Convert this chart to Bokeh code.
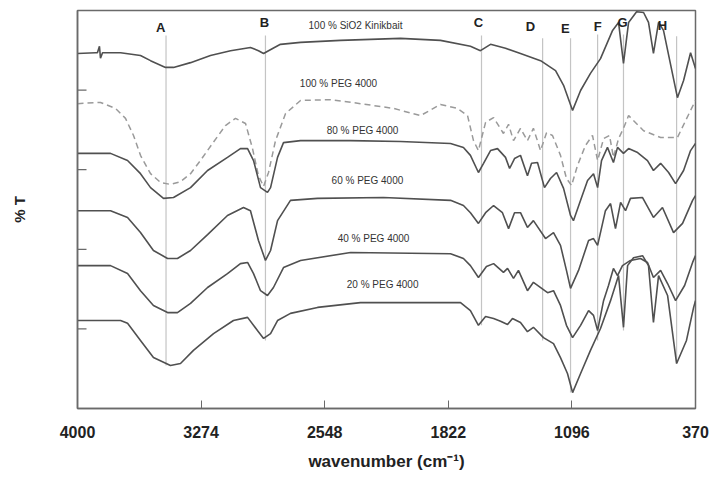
from bokeh.plotting import figure
from bokeh.models import Range1d, FixedTicker
from bokeh.core.properties import value
from bokeh.embed import file_html
from bokeh.resources import INLINE

# ---------------- data (wavenumber in cm^-1, transmittance in arbitrary % units) ----------------
tick_values = [4000, 3274, 2548, 1822, 1096, 370]
tick_labels = ["4000", "3274", "2548", "1822", "1096", "370"]
ytick_values = [20, 40, 60, 80]

sio2_wn = [4000, 3894, 3883, 3871, 3865, 3853, 3747, 3630, 3571, 3483, 3436, 3336, 3219, 3101,
           2984, 2937, 2907, 2878, 2808, 2690, 2455, 2103, 1868, 1692, 1633, 1574, 1486, 1398,
           1280, 1192, 1145, 1092, 1045, 987, 928, 857, 822, 793, 763, 716, 675, 646, 617, 587,
           558, 476, 440, 399, 370]
sio2_t = [89.2, 89.4, 89.4, 91.0, 88.0, 89.4, 89.4, 88.7, 87.4, 85.7, 85.7, 86.9, 88.7, 89.9,
          90.7, 89.9, 89.2, 89.9, 91.5, 92.0, 92.5, 93.0, 92.5, 91.0, 89.9, 91.5, 90.5, 89.2,
          87.4, 84.9, 81.2, 74.9, 79.9, 84.2, 87.9, 95.0, 97.0, 86.7, 97.0, 99.7, 99.5, 97.0,
          89.2, 97.0, 95.0, 78.1, 82.4, 89.4, 85.4]

peg100_wn = [4000, 3865, 3777, 3718, 3671, 3630, 3571, 3512, 3454, 3395, 3336, 3278, 3207, 3131,
             3072, 3013, 2972, 2937, 2907, 2878, 2837, 2778, 2690, 2514, 2338, 2144, 1985, 1868,
             1768, 1709, 1674, 1645, 1603, 1556, 1498, 1468, 1439, 1398, 1357, 1322, 1280, 1245,
             1210, 1163, 1128, 1098, 1063, 1016, 975, 945, 910, 875, 852, 822, 793, 763, 675,
             575, 476, 399, 370]
peg100_t = [76.6, 76.9, 75.4, 72.9, 68.6, 63.6, 59.0, 56.8, 56.3, 57.0, 59.0, 62.3, 66.6, 71.1,
            72.9, 71.6, 65.3, 58.5, 55.8, 59.3, 67.3, 74.1, 77.4, 77.6, 76.6, 75.4, 73.6, 76.4,
            75.4, 73.6, 67.3, 64.8, 71.9, 73.1, 69.1, 71.4, 67.3, 70.4, 67.3, 70.4, 64.8, 69.3,
            68.6, 63.6, 57.8, 56.0, 61.1, 66.1, 68.6, 62.3, 67.8, 68.6, 63.1, 67.8, 70.4, 73.6,
            69.8, 68.1, 68.1, 74.9, 77.4]

peg80_wn = [4000, 3806, 3706, 3630, 3571, 3495, 3436, 3336, 3236, 3119, 3043, 3001, 2966, 2925,
            2884, 2866, 2825, 2790, 2690, 2396, 2103, 1809, 1733, 1692, 1645, 1615, 1574, 1533,
            1486, 1462, 1433, 1398, 1357, 1333, 1298, 1257, 1222, 1186, 1145, 1104, 1087, 1045,
            1004, 969, 945, 922, 887, 852, 828, 793, 763, 710, 652, 617, 575, 528, 487, 440,
            399, 370]
peg80_t = [64.1, 64.1, 62.3, 59.0, 55.5, 52.8, 53.0, 55.5, 59.8, 63.1, 65.3, 65.3, 62.3, 55.5,
           54.3, 55.5, 63.1, 66.8, 67.3, 67.3, 67.1, 66.6, 65.6, 63.6, 59.3, 61.6, 64.8, 65.3,
           63.1, 60.3, 62.8, 63.6, 58.5, 61.6, 61.8, 55.5, 57.8, 59.3, 55.3, 48.5, 47.2, 52.3,
           57.3, 59.0, 55.5, 62.3, 65.6, 61.8, 65.6, 64.1, 65.3, 64.3, 62.3, 59.8, 61.6, 59.3,
           56.5, 59.8, 64.8, 66.6]

peg60_wn = [4000, 3806, 3706, 3630, 3554, 3471, 3413, 3336, 3236, 3119, 3025, 2984, 2937, 2896,
            2866, 2825, 2749, 2590, 2203, 1809, 1733, 1692, 1645, 1603, 1556, 1504, 1468, 1433,
            1398, 1357, 1322, 1251, 1204, 1163, 1128, 1104, 1057, 998, 969, 945, 899, 869, 840,
            810, 781, 752, 681, 617, 564, 499, 446, 387, 370]
peg60_t = [49.7, 49.7, 48.0, 44.2, 39.7, 37.7, 37.7, 39.7, 43.7, 48.5, 50.5, 49.7, 42.2, 37.2,
           39.7, 47.2, 52.3, 52.8, 53.0, 52.3, 51.0, 49.2, 46.5, 49.2, 51.0, 49.2, 45.2, 49.2,
           49.2, 45.5, 47.2, 42.7, 44.2, 41.0, 34.7, 30.2, 34.7, 42.2, 42.7, 41.0, 49.7, 51.5,
           45.2, 51.8, 49.7, 52.8, 53.0, 48.0, 50.5, 44.2, 46.5, 52.3, 53.5]

peg40_wn = [4000, 3806, 3706, 3630, 3554, 3471, 3413, 3336, 3236, 3119, 3043, 3001, 2966, 2925,
            2884, 2849, 2790, 2690, 2396, 1809, 1733, 1692, 1645, 1598, 1556, 1498, 1474, 1439,
            1410, 1357, 1322, 1239, 1204, 1163, 1128, 1092, 1045, 998, 969, 945, 910, 881, 852,
            828, 799, 752, 693, 652, 617, 575, 534, 487, 434, 387, 370]
peg40_t = [35.9, 35.9, 33.9, 29.6, 25.9, 24.1, 24.1, 26.4, 30.4, 33.9, 36.4, 36.7, 33.9, 29.6,
           28.4, 30.4, 35.4, 37.2, 39.2, 38.9, 37.7, 35.9, 32.9, 35.7, 36.4, 34.2, 35.2, 32.7,
           34.7, 29.6, 31.7, 29.1, 29.6, 25.9, 20.9, 17.8, 20.9, 24.6, 23.4, 19.6, 27.1, 30.9,
           35.2, 33.4, 35.9, 37.2, 37.7, 36.7, 32.9, 34.7, 31.4, 27.1, 30.9, 36.7, 38.4]

peg20_wn = [4000, 3747, 3706, 3630, 3554, 3454, 3395, 3319, 3201, 3084, 3001, 2943, 2907, 2866,
            2825, 2749, 2590, 2338, 1750, 1692, 1645, 1603, 1556, 1515, 1474, 1445, 1398, 1357,
            1322, 1263, 1204, 1163, 1122, 1092, 1045, 987, 928, 869, 822, 793, 769, 734, 681,
            646, 617, 587, 534, 481, 423, 381, 370]
peg20_t = [22.1, 22.1, 21.4, 17.1, 12.8, 10.8, 11.3, 14.6, 18.8, 22.1, 22.9, 19.6, 17.6, 18.8,
           22.1, 23.9, 25.4, 26.6, 26.6, 24.6, 20.9, 23.1, 22.6, 21.9, 21.1, 22.6, 21.6, 19.3,
           20.4, 17.8, 16.3, 12.8, 8.8, 4.0, 8.8, 14.6, 20.1, 27.1, 33.4, 20.4, 35.9, 37.9, 38.4,
           35.9, 21.6, 33.4, 28.4, 11.3, 17.1, 25.4, 27.1]

band_names = ["A", "B", "C", "D", "E", "F", "G", "H"]
band_wn = [3480, 2896, 1627, 1268, 1104, 945, 793, 481]

series_names = ["100 % SiO2 Kinikbait", "100 % PEG 4000", "80 % PEG 4000",
                "60 % PEG 4000", "40 % PEG 4000", "20 % PEG 4000"]

# ---------------- placement (positions, not data) ----------------
band_line_top = [93.7, 93.7, 93.7, 93.0, 93.0, 94.0, 94.0, 93.5]
band_line_bottom = [10.8, 17.1, 20.9, 17.1, 4.0, 17.1, 19.6, 11.3]
band_label_wn = [3512, 2902, 1645, 1339, 1134, 945, 799, 564]
band_label_t = [95.7, 97.0, 97.0, 96.0, 95.5, 96.0, 97.0, 96.2]
series_label_wn = [2367, 2467, 2326, 2297, 2261, 2208]
series_label_t = [96.2, 81.7, 69.8, 57.3, 42.7, 31.2]

FONT = "Liberation Sans"
CURVE = "#505050"
AXIS = "#6a6a6a"

x_range = Range1d(4000, 370)
p = figure(width=720, height=492, output_backend="svg", toolbar_location=None,
           x_range=x_range, y_range=Range1d(0, 100),
           min_border_left=77, min_border_right=25, min_border_top=10, min_border_bottom=84)
p.xgrid.visible = False
p.ygrid.visible = False
p.outline_line_color = AXIS
p.outline_line_width = 1.5
p.background_fill_color = "white"
p.border_fill_color = "white"

xa = p.xaxis[0]
xa.ticker = FixedTicker(ticks=tick_values)
xa.major_label_overrides = {v: s for v, s in zip(tick_values, tick_labels)}
xa.major_tick_in = 8
xa.major_tick_out = 0
xa.minor_tick_in = 0
xa.minor_tick_out = 0
xa.axis_line_color = AXIS
xa.axis_line_width = 1.5
xa.major_tick_line_color = AXIS
xa.major_label_standoff = 17
xa.major_label_text_font = FONT
xa.major_label_text_font_style = "bold"
xa.major_label_text_font_size = "16px"
xa.major_label_text_color = "#222222"
xa.axis_label = "wavenumber (cm\u207b\u00b9)"
xa.axis_label_text_font = FONT
xa.axis_label_text_font_style = "bold"
xa.axis_label_text_font_size = "17px"
xa.axis_label_text_color = "#222222"
xa.axis_label_standoff = 11

# y axis: no tick labels at all (ticks drawn as inward dashes below)
ya = p.yaxis[0]
ya.ticker = FixedTicker(ticks=[])
ya.major_tick_in = 0
ya.major_tick_out = 0
ya.minor_tick_in = 0
ya.minor_tick_out = 0
ya.axis_line_color = AXIS
ya.axis_line_width = 1.5
ya.axis_label = "% T"
ya.axis_label_text_font = FONT
ya.axis_label_text_font_style = "bold"
ya.axis_label_text_font_size = "15px"
ya.axis_label_text_color = "#222222"
ya.axis_label_standoff = 50

# inward y tick marks (half of each dash is clipped by the frame)
p.scatter(x=[x_range.start] * len(ytick_values), y=ytick_values, marker="dash",
          size=18, line_color=AXIS, line_width=1.2)

# band marker lines
p.segment(x0=band_wn, y0=band_line_bottom, x1=band_wn, y1=band_line_top,
          line_color="#c4c4c4", line_width=1.2)

# spectra
p.line(sio2_wn, sio2_t, line_color=CURVE, line_width=1.6)
p.line(peg100_wn, peg100_t, line_color="#9a9a9a", line_width=1.5, line_dash="6 4")
p.line(peg80_wn, peg80_t, line_color=CURVE, line_width=1.6)
p.line(peg60_wn, peg60_t, line_color=CURVE, line_width=1.6)
p.line(peg40_wn, peg40_t, line_color=CURVE, line_width=1.6)
p.line(peg20_wn, peg20_t, line_color=CURVE, line_width=1.6)

# band letters
p.text(x=band_label_wn, y=band_label_t, text=band_names, text_align="center",
       text_baseline="middle", text_font=value(FONT), text_font_style="bold",
       text_font_size="13px", text_color="#222222")

# series labels
p.text(x=series_label_wn, y=series_label_t, text=series_names, text_align="center",
       text_baseline="middle", text_font=value(FONT), text_font_size="10px",
       text_color="#333333")

open("out.html", "w").write(file_html(p, INLINE))
